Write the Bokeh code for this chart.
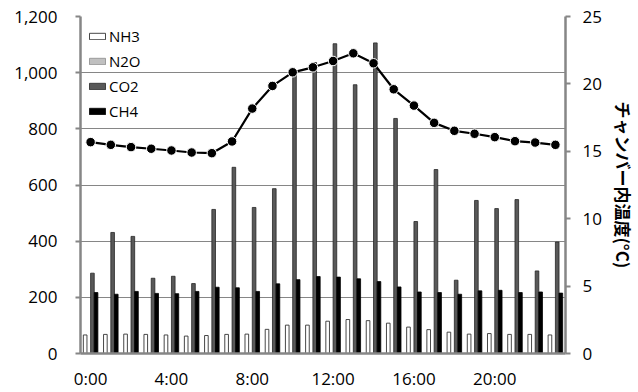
import numpy as np
from bokeh.plotting import figure
from bokeh.models import (Range1d, LinearAxis, FixedTicker, Legend, LegendItem,
                          NumeralTickFormatter, ColumnDataSource)
from bokeh.transform import dodge
from bokeh.embed import file_html
from bokeh.resources import INLINE

# ---- data ----
hours = ["0:00", "1:00", "2:00", "3:00", "4:00", "5:00", "6:00", "7:00", "8:00", "9:00",
         "10:00", "11:00", "12:00", "13:00", "14:00", "15:00", "16:00", "17:00", "18:00",
         "19:00", "20:00", "21:00", "22:00", "23:00"]
nh3 = [66, 68, 69, 68, 66, 62, 64, 68, 69, 86, 101, 101, 115, 121, 117, 108, 94, 85, 76, 69,
       71, 68, 68, 66]
n2o = [0, 0, 0, 0, 0, 0, 0, 0, 0, 0, 0, 0, 0, 0, 0, 0, 0, 0, 0, 0, 0, 0, 0, 0]
co2 = [286, 431, 417, 268, 275, 249, 513, 663, 520, 587, 995, 1036, 1103, 957, 1106, 837, 470,
       655, 261, 545, 516, 548, 294, 397]
ch4 = [217, 211, 221, 214, 213, 221, 236, 234, 221, 248, 263, 274, 272, 266, 256, 237, 219, 217,
       211, 223, 225, 217, 219, 215]
temp = [15.68, 15.48, 15.31, 15.19, 15.06, 14.91, 14.86, 15.73, 18.17, 19.85, 20.86, 21.23,
        21.70, 22.27, 21.53, 19.60, 18.39, 17.11, 16.52, 16.30, 16.05, 15.75, 15.65, 15.48]
left_ticks = [0, 200, 400, 600, 800, 1000, 1200]
right_ticks = [0, 5, 10, 15, 20, 25]
x_label_idx = [0, 4, 8, 12, 16, 20]
series_names = ["NH3", "N2O", "CO2", "CH4"]
right_title = "チャンバー内温度(°C)"

src = ColumnDataSource(dict(x=list(range(len(hours))), nh3=nh3, n2o=n2o, co2=co2, ch4=ch4,
                            temp=temp))

AX = "#868686"
FONT = "Open Sans"

p = figure(width=638, height=392, x_range=Range1d(-0.5, 23.5), y_range=Range1d(0, 1200),
           output_backend="svg", toolbar_location=None,
           min_border_left=80, min_border_right=73, min_border_top=16, min_border_bottom=38)
p.extra_y_ranges = {"temp": Range1d(0, 25)}
p.outline_line_color = None
p.background_fill_color = "white"
p.border_fill_color = "white"

p.xgrid.visible = False
p.ygrid.grid_line_color = AX
p.ygrid.grid_line_width = 1
p.ygrid.ticker = FixedTicker(ticks=left_ticks)

# left axis
ya = p.yaxis[0]
ya.ticker = FixedTicker(ticks=left_ticks)
ya.formatter = NumeralTickFormatter(format="0,0")
ya.axis_line_color = AX
ya.axis_line_width = 2.5
ya.major_tick_line_color = AX
ya.major_tick_line_width = 2
ya.major_tick_out = 5
ya.major_tick_in = 0
ya.minor_tick_line_color = None
ya.major_label_standoff = 18
ya.major_label_text_font = FONT
ya.major_label_text_font_size = "17px"
ya.major_label_text_color = "black"

# bottom axis
xa = p.xaxis[0]
xa.ticker = FixedTicker(ticks=x_label_idx)
xa.major_label_overrides = {i: hours[i] for i in x_label_idx}
xa.axis_line_color = AX
xa.axis_line_width = 2.5
xa.major_tick_line_color = None
xa.major_tick_out = 0
xa.major_tick_in = 0
xa.minor_tick_line_color = None
xa.major_label_standoff = 13
xa.major_label_text_font = FONT
xa.major_label_text_font_size = "17px"
xa.major_label_text_color = "black"

# right axis
ra = LinearAxis(y_range_name="temp", ticker=FixedTicker(ticks=right_ticks))
ra.axis_line_color = AX
ra.axis_line_width = 2.5
ra.major_tick_line_color = AX
ra.major_tick_line_width = 2
ra.major_tick_out = 5
ra.major_tick_in = 0
ra.minor_tick_line_color = None
ra.major_label_standoff = 12
ra.major_label_text_font = FONT
ra.major_label_text_font_size = "17px"
ra.major_label_text_color = "black"
ra.axis_label = right_title
ra.axis_label_standoff = 6
ra.axis_label_text_font = "Noto Sans CJK JP"
ra.axis_label_text_font_style = "bold"
ra.axis_label_text_font_size = "17px"
ra.axis_label_text_color = "black"
p.add_layout(ra, "right")

# bars
W = 0.18
r_nh3 = p.vbar(x=dodge("x", -0.27, range=p.x_range), top="nh3", width=W, source=src,
               fill_color="white", line_color="#333333", line_width=0.9)
r_n2o = p.vbar(x=dodge("x", -0.09, range=p.x_range), top="n2o", width=W, source=src,
               fill_color="#c0c0c0", line_color="#8a8a8a", line_width=0.8)
r_co2 = p.vbar(x=dodge("x", 0.09, range=p.x_range), top="co2", width=W, source=src,
               fill_color="#595959", line_color="#262626", line_width=0.8)
r_ch4 = p.vbar(x=dodge("x", 0.27, range=p.x_range), top="ch4", width=W, source=src,
               fill_color="black", line_color="black", line_width=0.8)

# temperature
p.line(x="x", y="temp", source=src, y_range_name="temp", line_color="black", line_width=2.2)
p.scatter(x="x", y="temp", source=src, y_range_name="temp", size=9.5, fill_color="black",
          line_color="white", line_width=1)

legend = Legend(items=[LegendItem(label=series_names[0], renderers=[r_nh3]),
                       LegendItem(label=series_names[1], renderers=[r_n2o]),
                       LegendItem(label=series_names[2], renderers=[r_co2]),
                       LegendItem(label=series_names[3], renderers=[r_ch4])],
                location="top_left", margin=7, padding=0, spacing=0, label_height=25,
                glyph_height=8, glyph_width=20, label_standoff=2,
                background_fill_alpha=0, border_line_alpha=0,
                label_text_font=FONT, label_text_font_size="15px",
                label_text_color="black")
p.add_layout(legend)

open("out.html", "w").write(file_html(p, INLINE))
